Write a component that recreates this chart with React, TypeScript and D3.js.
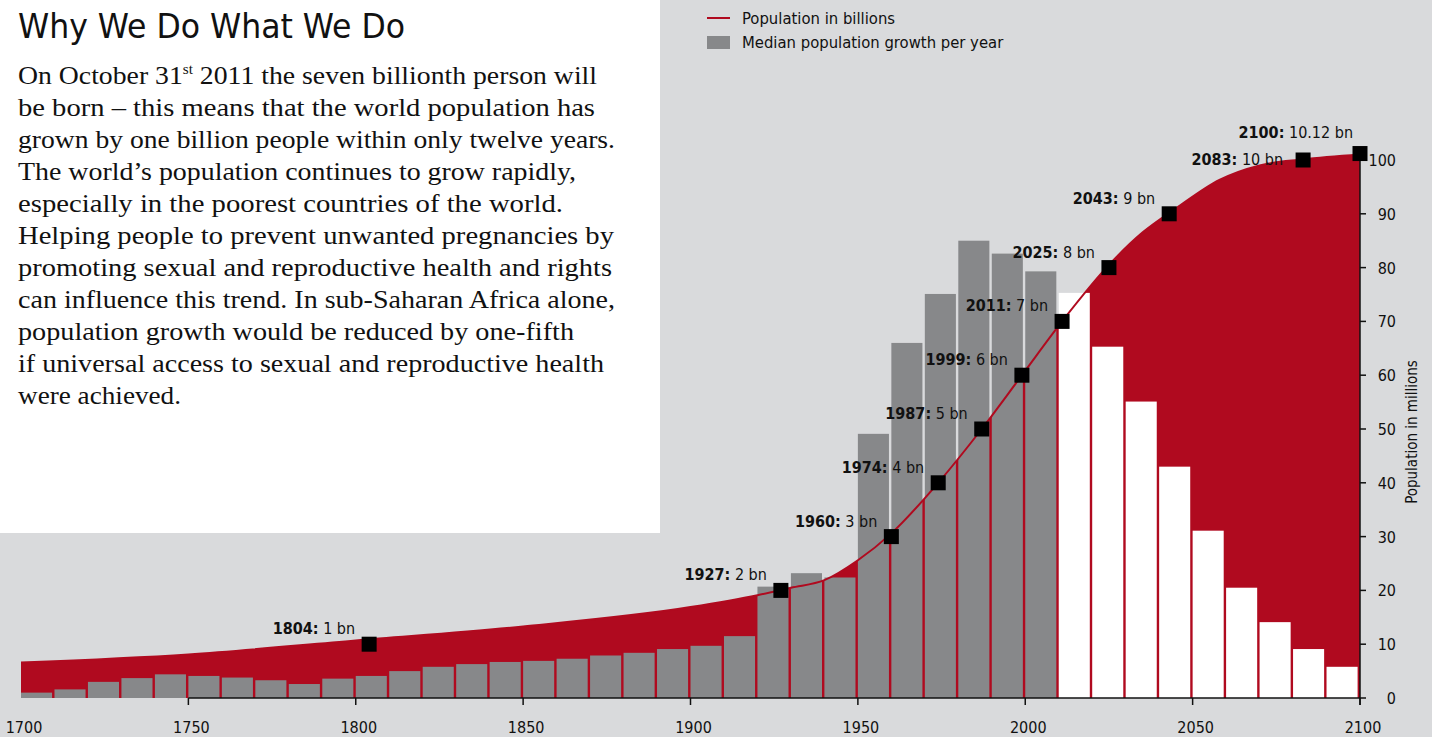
import React from "react";
import * as d3 from "d3";

// ---------- data ----------
const decades = [1700,1710,1720,1730,1740,1750,1760,1770,1780,1790,1800,1810,1820,1830,1840,1850,1860,1870,1880,1890,1900,1910,1920,1930,1940,1950,1960,1970,1980,1990,2000,2010,2020,2030,2040,2050,2060,2070,2080,2090];
const growthMillions = [1.0,1.6,3.0,3.7,4.4,4.1,3.8,3.3,2.6,3.6,4.1,5.0,5.8,6.3,6.7,6.9,7.3,7.9,8.4,9.1,9.7,11.5,20.7,23.2,22.4,49.1,66.0,75.1,85.0,82.6,79.3,75.3,65.3,55.1,43.0,31.1,20.5,14.1,9.1,5.8];
const projectionStart = 2010;

const popYears = [1700,1750,1800,1850,1900,1920,1930,1940,1950,1960,1974,1987,1999,2011,2025,2035,2045,2058,2070,2083,2100];
const popBillions = [0.66,0.81,1.07,1.33,1.69,1.91,2.05,2.19,2.56,3.06,4.0,5.0,6.0,7.0,8.05,8.65,9.1,9.63,9.9,10.01,10.1];

const milestoneYears = [1804,1927,1960,1974,1987,1999,2011,2025,2043,2083,2100];
const milestoneBillions = [1,2,3,4,5,6,7,8,9,10,10.12];
const milestoneLabels = ["1 bn","2 bn","3 bn","4 bn","5 bn","6 bn","7 bn","8 bn","9 bn","10 bn","10.12 bn"];

const xTicks = [1700,1750,1800,1850,1900,1950,2000,2050,2100];
const yTicks = [0,10,20,30,40,50,60,70,80,90,100];

const titleText = "Why We Do What We Do";
const bodyLines = [
  "On October 31|st| 2011 the seven billionth person will",
  "be born \u2013 this means that the world population has",
  "grown by one billion people within only twelve years.",
  "The world\u2019s population continues to grow rapidly,",
  "especially in the poorest countries of the world.",
  "Helping people to prevent unwanted pregnancies by",
  "promoting sexual and reproductive health and rights",
  "can influence this trend. In sub-Saharan Africa alone,",
  "population growth would be reduced by one-fifth",
  "if universal access to sexual and reproductive health",
  "were achieved.",
];
const legendLine = "Population in billions";
const legendBar = "Median population growth per year";
const yAxisTitle = "Population in millions";

// ---------- styles ----------
const RED = "#b00a1f";
const GRAY = "#87888a";
const BG = "#d9dadc";
const COND = "'Liberation Sans Narrow', 'DejaVu Sans Condensed', 'Roboto', sans-serif";
const SERIF = "'Liberation Serif', 'DejaVu Serif', serif";
const bodyLineWidths = [579, 577, 597, 558, 545, 596, 594, 597, 556, 586, 163];

export default function App() {
  const W = 1432, H = 737;
  const x = d3.scaleLinear().domain([1700, 2100]).range([21, 1360]);
  const y = d3.scaleLinear().domain([0, 100]).range([698, 160]);
  const step = x(1710) - x(1700);
  const barW = step - 2.4;

  const popPts: [number, number][] = popYears.map((yr, i) => [yr, popBillions[i] * 10]);
  const area = d3.area<[number, number]>()
    .x(d => x(d[0])).y0(y(0)).y1(d => y(d[1]))
    .curve(d3.curveMonotoneX);
  const line = d3.line<[number, number]>()
    .x(d => x(d[0])).y(d => y(d[1]))
    .curve(d3.curveMonotoneX);

  const labelOffset = (yr: number) => {
    if (yr === 2083) return { dx: -20, dy: 5 };
    if (yr === 2100) return { dx: -7, dy: -16 };
    return { dx: -14, dy: -10 };
  };

  return (
    <div style={{ position: "fixed", left: 0, top: 0, width: W, height: H }}>
      <svg width={W} height={H} style={{ display: "block" }}>
        <rect x={0} y={0} width={W} height={H} fill={BG} />
        <rect x={0} y={0} width={660} height={533} fill="#fff" />

        <text x={18} y={38} fontFamily={COND} fontSize={34} fill="#111"
          textLength={387} lengthAdjust="spacingAndGlyphs">{titleText}</text>
        {bodyLines.map((ln, i) => {
          const parts = ln.split("|");
          return (
            <text key={i} x={18} y={84 + i * 32} fontFamily={SERIF} fontSize={25.5} fill="#111"
              textLength={bodyLineWidths[i]} lengthAdjust="spacingAndGlyphs">
              {parts.length === 3 ? (
                <>
                  {parts[0]}
                  <tspan fontSize={14} dy={-10}>{parts[1]}</tspan>
                  <tspan dy={10}>{parts[2]}</tspan>
                </>
              ) : ln}
            </text>
          );
        })}

        {/* legend */}
        <line x1={707} x2={730} y1={18} y2={18} stroke={RED} strokeWidth={2} />
        <text x={742} y={24} fontFamily={COND} fontSize={16.5} fill="#111">{legendLine}</text>
        <rect x={707} y={36} width={23} height={13} fill={GRAY} />
        <text x={742} y={48} fontFamily={COND} fontSize={16.5} fill="#111">{legendBar}</text>

        {/* population area */}
        <path d={area(popPts) || ""} fill={RED} />

        {/* bars */}
        {decades.map((yr, i) => (
          <rect key={yr} x={x(yr)} y={y(growthMillions[i])} width={barW}
            height={y(0) - y(growthMillions[i])}
            fill={yr >= projectionStart ? "#fff" : GRAY} />
        ))}

        {/* population line */}
        <path d={line(popPts) || ""} fill="none" stroke={RED} strokeWidth={2} />

        {/* bottom axis */}
        <line x1={x(1750)} x2={x(2100)} y1={y(0)} y2={y(0)} stroke="#111" strokeWidth={1.5} />
        {xTicks.map(t => (
          <g key={t}>
            {t > 1700 && <line x1={x(t)} x2={x(t)} y1={y(0)} y2={y(0) + 7} stroke="#111" strokeWidth={1.5} />}
            <text x={x(t) + 3} y={733} textAnchor="middle" fontFamily={COND} fontSize={16} fill="#111">{t}</text>
          </g>
        ))}

        {/* right axis */}
        <line x1={x(2100)} x2={x(2100)} y1={y(100)} y2={y(0) + 7} stroke="#111" strokeWidth={1.5} />
        {yTicks.map(t => (
          <g key={t}>
            <line x1={x(2100)} x2={x(2100) + 6} y1={y(t)} y2={y(t)} stroke="#111" strokeWidth={1.5} />
            <text x={1396} y={y(t) + 6} textAnchor="end" fontFamily={COND} fontSize={16} fill="#111">{t}</text>
          </g>
        ))}
        <text transform={`translate(1417,432) rotate(-90)`} textAnchor="middle" fontFamily={COND} fontSize={15} fill="#111">{yAxisTitle}</text>

        {/* milestones */}
        {milestoneYears.map((yr, i) => {
          const cx = x(yr), cy = y(milestoneBillions[i] * 10);
          const o = labelOffset(yr);
          return (
            <g key={yr}>
              <rect x={cx - 7.5} y={cy - 7.5} width={15} height={15} fill="#000" />
              <text x={cx + o.dx} y={cy + o.dy} textAnchor="end" fontFamily={COND} fontSize={16} fill="#111">
                <tspan fontWeight="bold">{yr}:</tspan>
                <tspan> {milestoneLabels[i]}</tspan>
              </text>
            </g>
          );
        })}
      </svg>
    </div>
  );
}
